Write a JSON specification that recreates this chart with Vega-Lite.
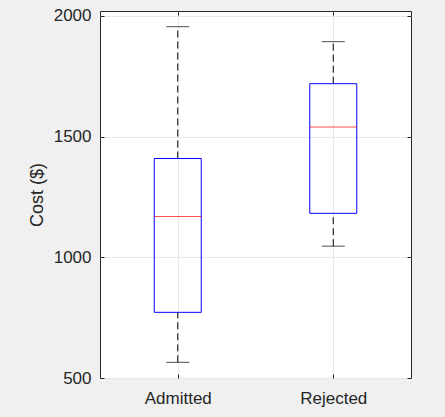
{
  "$schema": "https://vega.github.io/schema/vega-lite/v6.json",
  "autosize": "none",
  "width": 311,
  "height": 367,
  "padding": {"left": 100, "top": 11, "right": 34, "bottom": 39},
  "background": "#f0f0f0",
  "config": {
    "view": {"fill": "white", "stroke": "#262626", "strokeWidth": 1},
    "font": "Liberation Sans",
    "axis": {
      "labelFont": "Liberation Sans",
      "titleFont": "Liberation Sans",
      "labelColor": "#262626",
      "titleColor": "#262626",
      "labelFontSize": 17,
      "titleFontSize": 18,
      "titleFontWeight": "normal",
      "gridColor": "#e8e8e8",
      "gridWidth": 1,
      "domain": false,
      "tickColor": "#262626",
      "tickSize": -4
    }
  },
  "resolve": {"axis": {"x": "independent", "y": "independent"}},
  "data": {
    "values": [
      {"group": "Admitted", "lo": 565, "q1": 772, "med": 1169, "q3": 1409, "hi": 1955},
      {"group": "Rejected", "lo": 1046, "q1": 1182, "med": 1540, "q3": 1719, "hi": 1893}
    ]
  },
  "layer": [
    {
      "mark": {"type": "rule", "color": "#000000", "strokeDash": [7, 4], "strokeWidth": 1},
      "encoding": {
        "x": {
          "field": "group",
          "type": "nominal",
          "scale": {"type": "point", "padding": 0.5},
          "axis": {"title": null, "labelAngle": 0, "grid": true, "labelPadding": 16}
        },
        "y": {
          "field": "q3",
          "type": "quantitative",
          "scale": {"domain": [500, 2020], "nice": false, "zero": false},
          "axis": {"title": "Cost ($)", "values": [500, 1000, 1500, 2000], "format": "d", "grid": true, "titlePadding": 7, "labelPadding": 13}
        },
        "y2": {"field": "hi"}
      }
    },
    {
      "mark": {"type": "rule", "color": "#000000", "strokeDash": [7, 4], "strokeWidth": 1},
      "encoding": {
        "x": {
          "field": "group",
          "type": "nominal",
          "axis": {"title": null, "orient": "top", "labels": false, "grid": false}
        },
        "y": {
          "field": "lo",
          "type": "quantitative",
          "axis": {"title": null, "orient": "right", "labels": false, "grid": false, "values": [500, 1000, 1500, 2000]}
        },
        "y2": {"field": "q1"}
      }
    },
    {
      "mark": {"type": "tick", "color": "#000000", "size": 23, "thickness": 1},
      "encoding": {
        "x": {"field": "group", "type": "nominal", "axis": null},
        "y": {"field": "hi", "type": "quantitative", "axis": null}
      }
    },
    {
      "mark": {"type": "tick", "color": "#000000", "size": 23, "thickness": 1},
      "encoding": {
        "x": {"field": "group", "type": "nominal", "axis": null},
        "y": {"field": "lo", "type": "quantitative", "axis": null}
      }
    },
    {
      "mark": {"type": "bar", "size": 47, "fillOpacity": 0, "stroke": "#0000ff", "strokeWidth": 1},
      "encoding": {
        "x": {"field": "group", "type": "nominal", "axis": null},
        "y": {"field": "q1", "type": "quantitative", "axis": null},
        "y2": {"field": "q3"}
      }
    },
    {
      "mark": {"type": "tick", "color": "#ff0000", "size": 47, "thickness": 1},
      "encoding": {
        "x": {"field": "group", "type": "nominal", "axis": null},
        "y": {"field": "med", "type": "quantitative", "axis": null}
      }
    }
  ]
}
